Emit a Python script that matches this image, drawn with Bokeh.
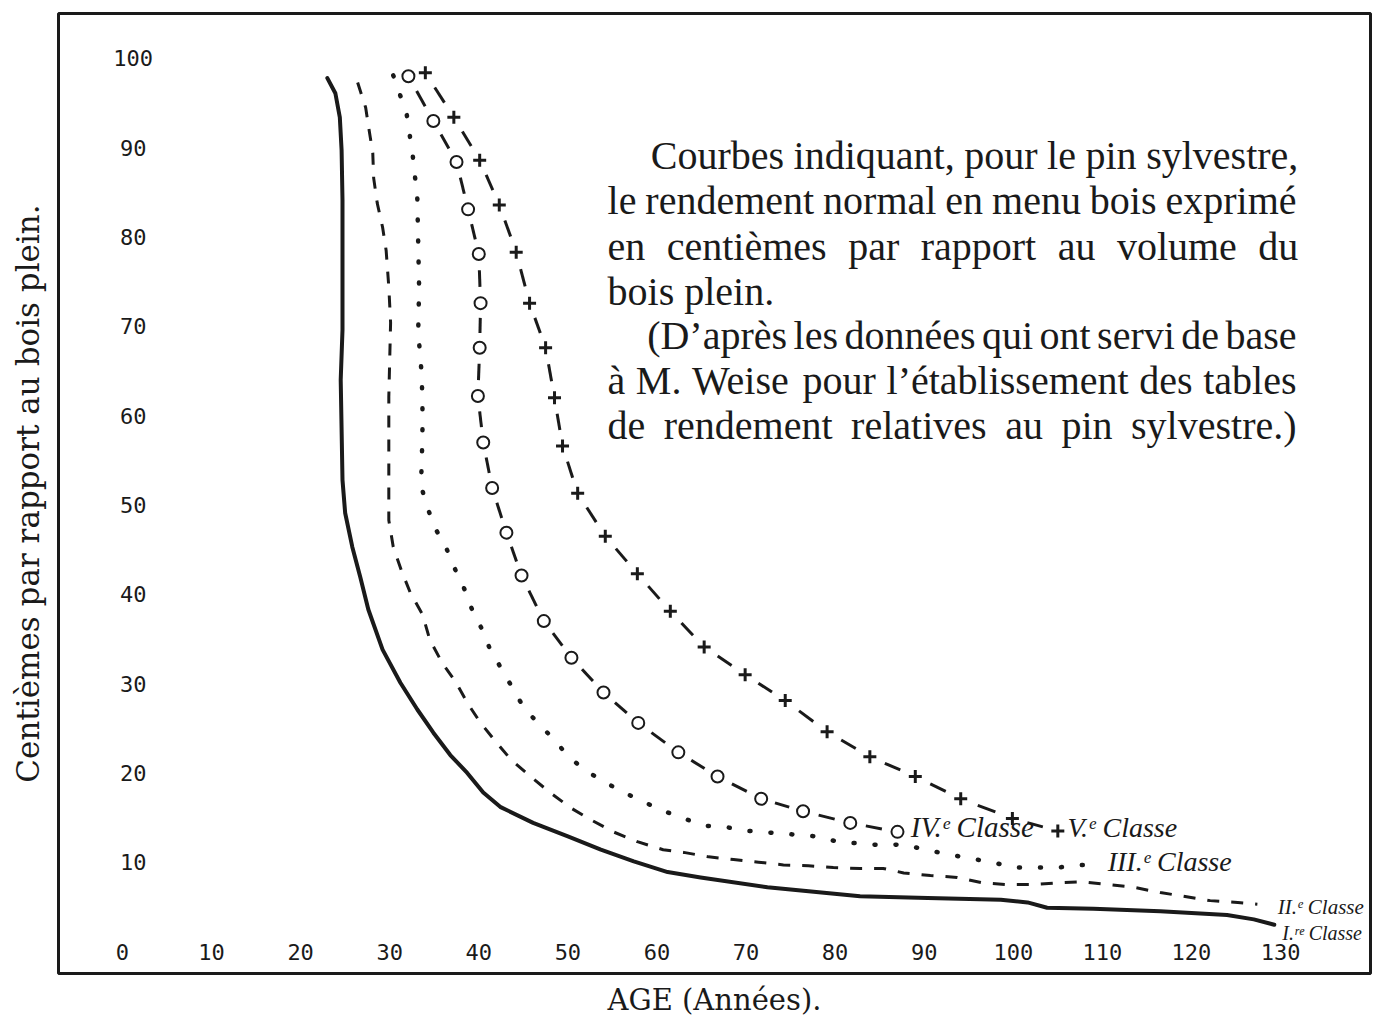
from bokeh.plotting import figure
from bokeh.models import Range1d, FixedTicker
from bokeh.embed import file_html
from bokeh.resources import INLINE
from bokeh.core.properties import value

# ---------------- data ----------------
x_ticks = [0, 10, 20, 30, 40, 50, 60, 70, 80, 90, 100, 110, 120, 130]
y_ticks = [10, 20, 30, 40, 50, 60, 70, 80, 90, 100]

age_I = [23.0, 23.9, 24.4, 24.6, 24.7, 24.7, 24.7, 24.5, 24.6, 24.7, 25.0, 25.8, 26.7, 27.6, 29.2,
         31.2, 33.1, 34.9, 36.8, 38.7, 40.5, 42.4, 46.1, 50.0, 53.7, 57.4, 61.2, 64.9, 72.4, 82.8,
         90.4, 98.6, 101.6, 103.8, 109.0, 116.5, 124.0, 127.0, 129.3]
val_I = [97.8, 96.1, 93.4, 89.7, 84.1, 78.5, 69.6, 64.0, 58.4, 52.8, 49.1, 45.3, 41.9, 38.3, 33.8,
         30.1, 27.1, 24.5, 22.0, 20.0, 17.8, 16.2, 14.4, 12.9, 11.4, 10.1, 8.9, 8.3, 7.2, 6.2,
         6.0, 5.8, 5.5, 4.9, 4.8, 4.5, 4.1, 3.6, 3.0]

age_II = [26.4, 27.3, 27.7, 28.1, 28.2, 28.6, 29.2, 29.6, 29.9, 30.1, 29.9, 29.9, 29.9, 30.4, 31.3,
          32.3, 33.7, 34.5, 35.9, 37.4, 38.8, 40.2, 41.9, 43.6, 45.8, 48.0, 50.3, 52.5, 55.1, 57.8,
          60.7, 63.0, 65.8, 68.6, 71.4, 74.2, 77.0, 79.8, 82.8, 85.4, 87.7, 90.7, 93.7, 96.5, 99.3,
          102.3, 105.3, 107.8, 110.6, 113.5, 116.5, 119.1, 122.1, 125.2, 127.4]
val_II = [97.3, 94.5, 91.9, 89.4, 86.6, 83.8, 81.1, 78.5, 74.4, 70.4, 62.1, 56.2, 48.3, 45.3, 42.7,
          40.2, 37.7, 34.9, 32.3, 30.2, 27.7, 25.6, 23.5, 21.5, 19.6, 17.8, 16.1, 14.8, 13.4, 12.3,
          11.4, 11.1, 10.6, 10.3, 10.0, 9.7, 9.6, 9.4, 9.3, 9.3, 8.8, 8.5, 8.3, 7.7, 7.5,
          7.5, 7.7, 7.8, 7.5, 7.2, 6.6, 6.2, 5.7, 5.5, 5.3]

age_III = [30.4, 31.9, 32.6, 33.1, 33.2, 33.3, 33.2, 33.6, 33.7, 33.6, 33.5, 34.2, 35.1, 36.3, 37.2,
           38.3, 39.2, 40.3, 41.2, 42.4, 43.8, 45.0, 46.6, 48.4, 50.0, 51.8, 53.9, 56.1, 58.4, 60.6,
           63.0, 65.3, 67.9, 70.3, 72.9, 77.8, 80.3, 82.7, 85.2, 87.7, 90.1, 92.7, 95.2, 97.7, 100.0,
           102.7, 105.0, 107.3, 109.8]
val_III = [98.1, 93.8, 89.0, 84.3, 79.3, 74.4, 69.4, 64.5, 59.6, 54.7, 52.2, 49.8, 47.4, 45.3, 43.1,
           40.8, 38.4, 36.2, 34.0, 31.9, 29.5, 27.4, 25.6, 23.8, 21.9, 20.4, 19.1, 17.9, 16.8, 15.8,
           14.9, 14.1, 13.9, 13.5, 13.3, 12.9, 12.3, 12.1, 11.9, 12.0, 11.4, 10.9, 10.4, 10.0, 9.4,
           9.4, 9.4, 9.7, 9.7]

age_IV = [32.1, 34.9, 37.5, 38.8, 40.0, 40.2, 40.1, 39.9, 40.5, 41.5, 43.1, 44.8, 47.3, 50.4, 54.0,
          57.9, 62.4, 66.8, 71.7, 76.4, 81.7, 87.0]
val_IV = [98.0, 93.0, 88.4, 83.1, 78.1, 72.6, 67.6, 62.2, 57.0, 51.9, 46.9, 42.1, 37.0, 32.9, 29.0,
          25.6, 22.3, 19.6, 17.1, 15.7, 14.4, 13.4]

age_V = [34.0, 37.2, 40.1, 42.3, 44.2, 45.7, 47.5, 48.5, 49.4, 51.1, 54.2, 57.8, 61.5, 65.3, 69.9,
         74.4, 79.1, 83.9, 89.0, 94.1, 99.9, 105.0]
val_V = [98.4, 93.4, 88.6, 83.6, 78.3, 72.6, 67.6, 62.0, 56.6, 51.3, 46.5, 42.3, 38.1, 34.1, 31.0,
         28.1, 24.6, 21.8, 19.6, 17.1, 14.9, 13.5]

class_labels = ["I.\u02b3\u1d49 Classe", "II.\u1d49 Classe", "III.\u1d49 Classe",
                "IV.\u1d49 Classe", "V.\u1d49 Classe"]

note_lines = [
    "Courbes indiquant, pour le pin sylvestre,",
    "le rendement normal en menu bois exprimé",
    "en centièmes par rapport au volume du",
    "bois plein.",
    "(D\u2019après les données qui ont servi de base",
    "à M. Weise pour l\u2019établissement des tables",
    "de rendement relatives au pin sylvestre.)",
]

INK = "#1a1a1a"
SERIF = value("Liberation Serif")

X0, X1 = -7.18, 140.1
Y0, Y1 = -2.46, 105.03
W, H = 1372, 1019
BL, BR, BT, BB = 58, 2, 13, 45

p = figure(width=W, height=H,
           x_range=Range1d(X0, X1), y_range=Range1d(Y0, Y1),
           output_backend="svg", toolbar_location=None,
           min_border_left=BL, min_border_right=BR, min_border_top=BT, min_border_bottom=BB)
p.grid.visible = False
p.background_fill_color = "white"
p.border_fill_color = "white"
p.outline_line_color = INK
p.outline_line_width = 3

for ax in (p.xaxis[0], p.yaxis[0]):
    ax.ticker = FixedTicker(ticks=[])
    ax.axis_line_color = None
    ax.major_tick_line_color = None
    ax.minor_tick_line_color = None
    ax.major_label_text_font_size = "0px"
    ax.axis_label_text_font = "DejaVu Serif"
    ax.axis_label_text_font_style = "normal"
    ax.axis_label_text_color = INK
p.xaxis[0].axis_label = "AGE (Années)."
p.xaxis[0].axis_label_text_font_size = "29px"
p.xaxis[0].axis_label_standoff = 9
p.yaxis[0].axis_label = "Centièmes par rapport au bois plein."
p.yaxis[0].axis_label_text_font_size = "31px"
p.yaxis[0].axis_label_standoff = 13

# tick labels printed inside the frame
TICKFONT = value("DejaVu Sans Mono")
p.text(x=x_ticks, y=[0] * len(x_ticks), text=[str(t) for t in x_ticks],
       text_align="center", text_baseline="middle", text_font=TICKFONT,
       text_font_size="22px", text_color=INK)
p.text(x=[1.2] * len(y_ticks), y=y_ticks, text=[str(t) for t in y_ticks],
       text_align="center", text_baseline="middle", text_font=TICKFONT,
       text_font_size="22px", text_color=INK)

# I  solid
p.line(age_I, val_I, line_color=INK, line_width=4, line_join="round", line_cap="round")
# II dashed
p.line(age_II, val_II, line_color=INK, line_width=3, line_dash="12 12")
# III dotted
p.line(age_III, val_III, line_color=INK, line_width=4.5, line_dash="1 20", line_cap="round")


def between(xs, ys, a=0.33, b=0.67):
    x0 = [xs[i] + a * (xs[i + 1] - xs[i]) for i in range(len(xs) - 1)]
    y0 = [ys[i] + a * (ys[i + 1] - ys[i]) for i in range(len(ys) - 1)]
    x1 = [xs[i] + b * (xs[i + 1] - xs[i]) for i in range(len(xs) - 1)]
    y1 = [ys[i] + b * (ys[i + 1] - ys[i]) for i in range(len(ys) - 1)]
    return x0, y0, x1, y1


# IV circles with dashes between
x0, y0, x1, y1 = between(age_IV, val_IV)
p.segment(x0, y0, x1, y1, line_color=INK, line_width=3)
p.scatter(age_IV, val_IV, marker="circle", size=12, fill_color="white",
          line_color=INK, line_width=2)
# V crosses with dashes between
x0, y0, x1, y1 = between(age_V, val_V)
p.segment(x0, y0, x1, y1, line_color=INK, line_width=3)
p.scatter(age_V, val_V, marker="cross", size=13, line_color=INK, line_width=3)

# class labels (italic)
p.text(x=[130.2, 129.7, 110.6, 88.5, 106.1], y=[2.1, 5.0, 10.1, 13.9, 13.9],
       text=class_labels, text_align="left", text_baseline="middle",
       text_font=SERIF, text_font_style="italic",
       text_font_size=["20px", "21px", "28px", "29px", "28px"], text_color=INK)

# ---- justified note block (Times/Liberation Serif advance widths, per 1000 em) ----
ADV = dict(a=444, b=500, c=444, d=500, e=444, f=333, g=500, h=500, i=278, j=278, k=500,
           l=278, m=778, n=500, o=500, p=500, q=500, r=333, s=389, t=278, u=500, v=500,
           w=722, x=500, y=500, z=444)
ADV.update({"é": 444, "è": 444, "à": 444, "C": 667, "D": 722, "M": 889, "W": 944,
            ",": 250, ".": 250, "(": 333, ")": 333, "\u2019": 333, " ": 250})
NOTE_PX = 40
unit = (W - BL - BR) / (X1 - X0)          # pixels per year on the x scale


def width_units(s):
    return sum(ADV.get(ch, 500) for ch in s) / 1000.0 * NOTE_PX / unit


note_left = [59.3, 54.45, 54.45, 54.45, 58.9, 54.45, 54.45]
note_right = [132.0, 131.8, 132.0, None, 131.8, 131.8, 131.8]
note_y = [89.15, 84.12, 78.97, 73.94, 69.02, 63.98, 58.95]

wx, wy, wt = [], [], []
for line, left, right, yv in zip(note_lines, note_left, note_right, note_y):
    words = line.split(" ")
    widths = [width_units(wd) for wd in words]
    if right is None or len(words) < 2:
        gap = width_units(" ")
    else:
        gap = (right - left - sum(widths)) / (len(words) - 1)
    xpos = left
    for wd, wdw in zip(words, widths):
        wx.append(xpos)
        wy.append(yv)
        wt.append(wd)
        xpos += wdw + gap

p.text(x=wx, y=wy, text=wt, text_align="left", text_baseline="middle",
       text_font=SERIF, text_font_size="%dpx" % NOTE_PX, text_color=INK)

open("out.html", "w").write(file_html(p, INLINE))
